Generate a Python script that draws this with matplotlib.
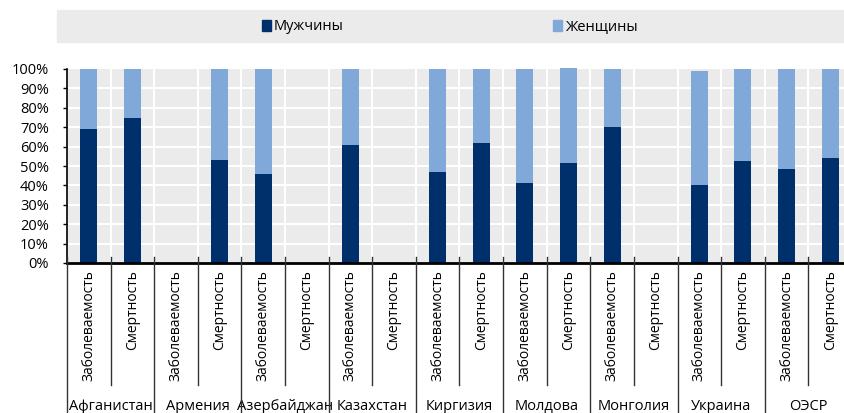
import matplotlib.pyplot as plt
import matplotlib.patches as mpatches
import numpy as np

plt.rcParams['font.family'] = ['Open Sans', 'DejaVu Sans']

countries = ['Афганистан', 'Армения', 'Азербайджан', 'Казахстан', 'Киргизия',
             'Молдова', 'Монголия', 'Украина', 'ОЭСР']
measures = ['Заболеваемость', 'Смертность']

# share of men / women, pairs per country (incidence, mortality); nan = no data
men = [0.691, 0.749, np.nan, 0.533, 0.460, np.nan, 0.609, np.nan, 0.470,
       0.618, 0.410, 0.515, 0.702, np.nan, 0.400, 0.526, 0.484, 0.542]
women = [0.309, 0.251, np.nan, 0.467, 0.540, np.nan, 0.391, np.nan, 0.530,
         0.382, 0.590, 0.490, 0.298, np.nan, 0.591, 0.474, 0.514, 0.458]

c_men = '#00306B'
c_women = '#80A8D9'
grid_bg = '#EBEBEB'

W, H = 844, 413
fig = plt.figure(figsize=(W / 100, H / 100), dpi=100)
ax = fig.add_axes([67 / W, 1 - 263 / H, 785 / W, 194 / H])
ax.set_facecolor(grid_bg)

x = np.arange(len(men))
m = np.nan_to_num(men)
f = np.nan_to_num(women)
ax.bar(x, m, width=0.39, color=c_men, zorder=3, clip_on=False)
ax.bar(x, f, width=0.39, bottom=m, color=c_women, zorder=3, clip_on=False)

ax.set_xlim(-0.5, len(men) - 0.5)
ax.set_ylim(0, 1)
ax.set_yticks(np.arange(0, 1.01, 0.1))
ax.set_yticklabels([f'{int(round(v * 100))}%' for v in np.arange(0, 1.01, 0.1)])
ax.tick_params(axis='y', length=3, width=1, pad=10, labelsize=10.5, color='black')
ax.set_xticks([])

# white grid
for v in np.arange(0.1, 1.0, 0.1):
    ax.axhline(v, color='white', lw=1.5, zorder=1)
for b in np.arange(0.5, len(men) - 0.5, 1):
    ax.axvline(b, color='white', lw=1.5, zorder=1)

for s in ['top', 'right']:
    ax.spines[s].set_visible(False)
ax.spines['left'].set_linewidth(1.2)
ax.spines['bottom'].set_linewidth(2)
ax.spines['bottom'].set_zorder(4)

tr = ax.get_xaxis_transform()
# category labels
for i in range(len(men)):
    ax.text(i, -0.036, measures[i % 2], rotation=90, ha='center', va='top',
            fontsize=10, transform=tr)
# separators
for b in np.arange(-0.5, len(men), 1):
    i = int(b + 0.5)
    if i % 2 == 0:
        ax.plot([b, b], [0.03, -0.78], color='#333333', lw=1, transform=tr, clip_on=False, zorder=5)
    else:
        ax.plot([b, b], [0.03, -0.63], color='#333333', lw=1, transform=tr, clip_on=False, zorder=5)
# group labels
for k, c in enumerate(countries):
    ax.text(2 * k + 0.5, -0.738, c, ha='center', va='center', fontsize=10.5, transform=tr)

# legend band
fig.patches.append(mpatches.Rectangle((57 / W, 1 - 42 / H), (W - 57) / W, 32 / H,
                                      transform=fig.transFigure, color=grid_bg, zorder=0))
for xm, lab, col in [(262, 'Мужчины', c_men), (553, 'Женщины', c_women)]:
    fig.patches.append(mpatches.Rectangle((xm / W, 1 - 31 / H), 9 / W, 11 / H,
                                          transform=fig.transFigure, color=col))
    fig.text((xm + 12) / W, 1 - 27 / H, lab, ha='left', va='center', fontsize=10.5)

fig.savefig('out.png', dpi=100)
